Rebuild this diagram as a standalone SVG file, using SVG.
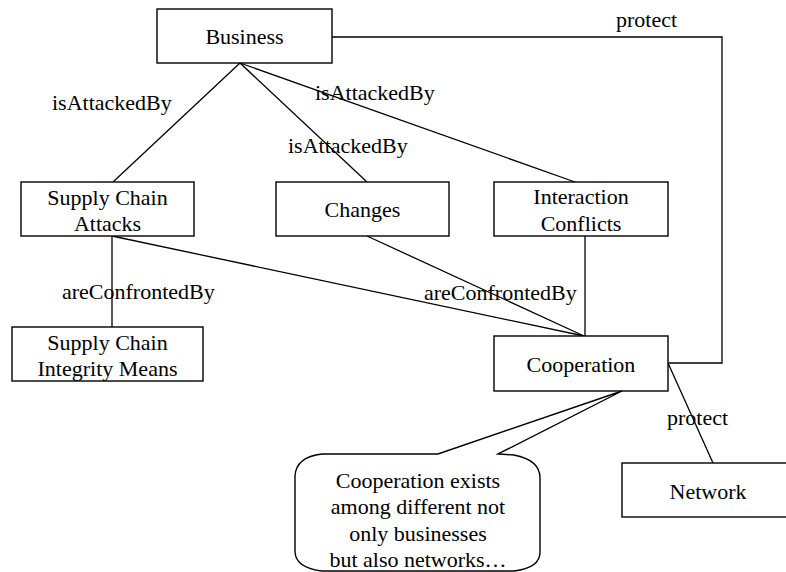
<svg xmlns="http://www.w3.org/2000/svg" width="786" height="572" viewBox="0 0 786 572">
  <style>
    .box { fill: #fff; stroke: #000; stroke-width: 1.4; }
    .edge { fill: none; stroke: #000; stroke-width: 1.3; }
    text { font-family: "Liberation Serif", "Times New Roman", serif; font-size: 22px; fill: #000; }
    .c { text-anchor: middle; }
  </style>
  <rect width="786" height="572" fill="#fff"/>

  <!-- connectors -->
  <g id="connectors">
    <line class="edge" x1="240" y1="63" x2="113" y2="182"/>
    <line class="edge" x1="240" y1="63" x2="367" y2="182"/>
    <line class="edge" x1="240" y1="63" x2="575" y2="182"/>
    <line class="edge" x1="112" y1="236" x2="112" y2="327"/>
    <line class="edge" x1="112" y1="236" x2="584" y2="336"/>
    <line class="edge" x1="367" y1="236" x2="584" y2="336"/>
    <line class="edge" x1="585" y1="236" x2="585" y2="336"/>
    <polyline class="edge" points="332,37 722,37 722,363 668,363"/>
    <line class="edge" x1="668" y1="363" x2="713" y2="463"/>
    <text x="52" y="110">isAttackedBy</text>
    <text x="288" y="153">isAttackedBy</text>
    <text x="315" y="100">isAttackedBy</text>
    <text x="62" y="299">areConfrontedBy</text>
    <text x="424" y="300">areConfrontedBy</text>
    <text x="616" y="27">protect</text>
    <text x="667" y="425">protect</text>
  </g>

  <g id="business">
    <rect class="box" x="157" y="9" width="175" height="54"/>
    <text class="c" x="244.5" y="44">Business</text>
  </g>

  <g id="supply-chain-attacks">
    <rect class="box" x="21" y="182" width="173" height="54"/>
    <text class="c" x="107.5" y="205">Supply Chain</text>
    <text class="c" x="107.5" y="231">Attacks</text>
  </g>

  <g id="changes">
    <rect class="box" x="276" y="182" width="173" height="54"/>
    <text class="c" x="362.5" y="217">Changes</text>
  </g>

  <g id="interaction-conflicts">
    <rect class="box" x="494" y="182" width="174" height="54"/>
    <text class="c" x="581" y="204">Interaction</text>
    <text class="c" x="581" y="231">Conflicts</text>
  </g>

  <g id="supply-chain-integrity-means">
    <rect class="box" x="12" y="327" width="191" height="54"/>
    <text class="c" x="107.5" y="350">Supply Chain</text>
    <text class="c" x="107.5" y="376">Integrity Means</text>
  </g>

  <g id="cooperation">
    <rect class="box" x="494" y="336" width="174" height="55"/>
    <text class="c" x="581" y="372">Cooperation</text>
  </g>

  <g id="network">
    <rect class="box" x="622" y="463" width="174" height="54"/>
    <text class="c" x="708" y="499">Network</text>
  </g>

  <!-- speech-bubble note -->
  <g id="note">
    <path class="box" d="M 322 454 L 438 454 L 622 391 L 498 454 L 514 455 Q 540 460 540 478 L 540 552 Q 540 568 514 571 L 322 571 Q 296 568 295 552 L 295 476 Q 296 457 322 454 Z"/>
    <text class="c" x="418" y="488">Cooperation exists</text>
    <text class="c" x="418" y="514">among different not</text>
    <text class="c" x="418" y="541">only businesses</text>
    <text class="c" x="418" y="567">but also networks…</text>
  </g>
</svg>
